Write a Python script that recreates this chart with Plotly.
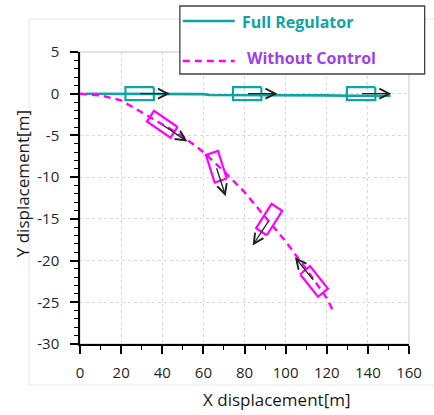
import math
import plotly.graph_objects as go

# ---------------- data ----------------
reg_x = [3, 20, 40, 60, 63, 80, 100, 120, 130, 140, 151]
reg_y = [0, 0, -0.05, -0.05, -0.15, -0.15, -0.15, -0.2, -0.25, -0.25, -0.25]

nc_x = [0, 10, 20, 30, 40, 50, 60, 70, 80, 90, 100, 110, 120, 123]
nc_y = [0, -0.2, -0.8, -2.2, -3.6, -5.1, -7.0, -9.3, -11.8, -14.7, -17.7, -21.0, -24.5, -26.0]

# vehicle snapshots: centre position and visual heading (deg, CCW from +x)
reg_car_x = [29.0, 81.3, 136.7]
reg_car_y = [0.0, 0.0, 0.0]
reg_car_heading = [0, 0, 0]

nc_car_x = [40.0, 66.3, 92.0, 113.8]
nc_car_y = [-3.66, -8.75, -15.08, -22.5]
nc_car_heading = [-34, -72, -123, 129]

x_ticks = [0, 20, 40, 60, 80, 100, 120, 140, 160]
x_tick_text = ["0", "20", "40", "60", "80", "100", "120", "140", "160"]
y_ticks = [5, 0, -5, -10, -15, -20, -25, -30]
y_tick_text = ["5", "0", "-5", "-10", "-15", "-20", "-25", "-30"]

series_names = ["Full Regulator", "Without Control"]

# ---------------- styling / layout ----------------
W, H = 434, 415
ML, MR, MT, MB = 80, 18, 52, 71
XR = [0, 160]
YR = [-30, 5]
PW, PH = W - ML - MR, H - MT - MB
SX = PW / (XR[1] - XR[0])   # px per metre (x)
SY = PH / (YR[1] - YR[0])   # px per metre (y)

TEAL = "#10A3A3"
MAGENTA = "#FF00FF"
PURPLE = "#A040E8"
FONT = "Open Sans"

CAR_LEN, CAR_WID = 29, 13   # px
ARROW_LEN = 31              # px

fig = go.Figure()

fig.add_trace(go.Scatter(x=reg_x, y=reg_y, mode="lines", name=series_names[0],
                         line=dict(color=TEAL, width=2.6), showlegend=False))
fig.add_trace(go.Scatter(x=nc_x, y=nc_y, mode="lines", name=series_names[1],
                         line=dict(color=MAGENTA, width=2.4, dash="7px,5px"),
                         showlegend=False))


def car_polygon(cx, cy, hdg):
    t = math.radians(hdg)
    ux, uy = math.cos(t), math.sin(t)
    vx, vy = -uy, ux
    hl, hw = CAR_LEN / 2, CAR_WID / 2
    pts = [(hl, hw), (hl, -hw), (-hl, -hw), (-hl, hw), (hl, hw)]
    xs, ys = [], []
    for a, b in pts:
        px = a * ux + b * vx
        py = a * uy + b * vy
        xs.append(cx + px / SX)
        ys.append(cy + py / SY)
    return xs, ys


annotations = []


def add_car(cx, cy, hdg, color):
    xs, ys = car_polygon(cx, cy, hdg)
    fig.add_trace(go.Scatter(x=xs, y=ys, mode="lines", line=dict(color=color, width=2.2),
                             showlegend=False, hoverinfo="skip"))
    t = math.radians(hdg)
    tipx = cx + ARROW_LEN * math.cos(t) / SX
    tipy = cy + ARROW_LEN * math.sin(t) / SY
    annotations.append(dict(x=tipx, y=tipy, xref="x", yref="y", text="",
                            showarrow=True, arrowhead=5, arrowsize=1.5, arrowwidth=1.3,
                            arrowcolor="#222222", standoff=0, startstandoff=0,
                            ax=-ARROW_LEN * math.cos(t), ay=ARROW_LEN * math.sin(t)))


for cx, cy, h in zip(reg_car_x, reg_car_y, reg_car_heading):
    add_car(cx, cy, h, TEAL)
for cx, cy, h in zip(nc_car_x, nc_car_y, nc_car_heading):
    add_car(cx, cy, h, MAGENTA)


def px_x(p):
    return (p - ML) / PW


def px_y(p):
    return (H - MB - p) / PH


shapes = [
    # outer chart-area frame
    dict(type="rect", xref="paper", yref="paper", x0=px_x(28), x1=px_x(445),
         y0=px_y(385), y1=px_y(19), line=dict(color="#E6E6E6", width=1), layer="below"),
    # plot-area frame (top / right)
    dict(type="rect", xref="paper", yref="paper", x0=0, x1=1, y0=0, y1=1,
         line=dict(color="#D9D9D9", width=1.5), layer="below"),
    # legend box
    dict(type="rect", xref="paper", yref="paper", x0=px_x(182), x1=px_x(432),
         y0=px_y(74), y1=px_y(6), line=dict(color="#404040", width=1.3),
         fillcolor="white", layer="above"),
    dict(type="line", xref="paper", yref="paper", x0=px_x(185), x1=px_x(238),
         y0=px_y(21), y1=px_y(21), line=dict(color=TEAL, width=2.6), layer="above"),
    dict(type="line", xref="paper", yref="paper", x0=px_x(185), x1=px_x(238),
         y0=px_y(61), y1=px_y(61), line=dict(color=MAGENTA, width=2.4, dash="7px,5px"),
         layer="above"),
]

annotations += [
    dict(xref="paper", yref="paper", x=px_x(243), y=px_y(22), xanchor="left", yanchor="middle",
         text="<b>" + series_names[0] + "</b>", showarrow=False,
         font=dict(family=FONT, size=16, color=TEAL)),
    dict(xref="paper", yref="paper", x=px_x(248), y=px_y(58), xanchor="left", yanchor="middle",
         text="<b>" + series_names[1] + "</b>", showarrow=False,
         font=dict(family=FONT, size=16, color=PURPLE)),
    dict(xref="paper", yref="paper", x=px_x(281), y=px_y(400), xanchor="center", yanchor="middle",
         text="X displacement[m]", showarrow=False,
         font=dict(family=FONT, size=17, color="#1a1a1a")),
    dict(xref="paper", yref="paper", x=px_x(21), y=px_y(184), xanchor="center", yanchor="middle",
         text="Y displacement[m]", showarrow=False, textangle=-90,
         font=dict(family=FONT, size=17, color="#1a1a1a")),
]

axis_common = dict(showline=True, linecolor="black", linewidth=1.5, ticks="outside",
                   ticklen=8, tickwidth=1.5, tickcolor="black", showgrid=True,
                   gridcolor="#D9D9D9", griddash="dot", gridwidth=1, zeroline=False,
                   tickfont=dict(family=FONT, size=15, color="#262626"))

fig.update_layout(
    width=W, height=H, autosize=False,
    margin=dict(l=ML, r=MR, t=MT, b=MB, pad=0),
    paper_bgcolor="white", plot_bgcolor="white",
    showlegend=False,
    shapes=shapes, annotations=annotations,
    xaxis=dict(range=XR, tickvals=x_ticks, ticktext=x_tick_text,
               minor=dict(dtick=10, ticks="outside", ticklen=4, tickcolor="black",
                          tickwidth=1.2, showgrid=False),
               ticklabelstandoff=6, **axis_common),
    yaxis=dict(range=YR, tickvals=y_ticks, ticktext=y_tick_text,
               minor=dict(dtick=1, ticks="outside", ticklen=4, tickcolor="black",
                          tickwidth=1.2, showgrid=False),
               ticklabelstandoff=8, **axis_common),
)

fig.write_html("out.html", config={"displayModeBar": False},
               post_script="document.body.style.margin='0px';document.body.style.padding='0px';")
